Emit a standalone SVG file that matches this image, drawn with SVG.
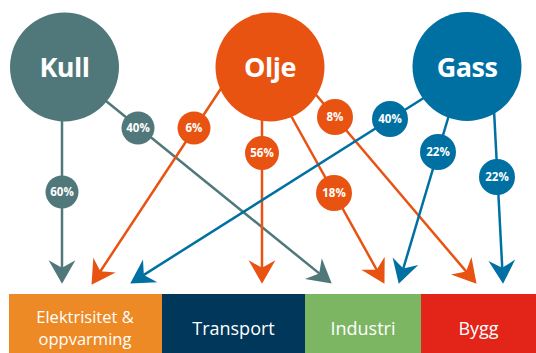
<svg xmlns="http://www.w3.org/2000/svg" width="536" height="353" viewBox="0 0 536 353">
<defs>
<style>
.big{font-family:"Open Sans","Noto Sans",sans-serif;font-weight:700;font-size:27px;fill:#fff;text-anchor:middle;letter-spacing:-0.5px}
.pct{font-family:"Open Sans","Noto Sans",sans-serif;font-weight:700;font-size:11.5px;fill:#fff;text-anchor:middle}
.lab{font-family:"Open Sans","Noto Sans",sans-serif;font-size:18px;fill:#fff;text-anchor:middle}
.lab2{font-family:"Open Sans","Noto Sans",sans-serif;font-size:16.5px;fill:#fff;text-anchor:middle}
.kull{fill:#50787a}.olje{fill:#e85312}.gass{fill:#0070a3}
.ck{stroke:#50787a}.co{stroke:#e85312}.cg{stroke:#0070a3}
#connectors line{stroke-width:2.5;fill:none}
</style>
<marker id="ak" markerUnits="userSpaceOnUse" markerWidth="30" markerHeight="30" viewBox="-2 -14 28 28" refX="10" refY="0" orient="auto"><path d="M22,0 L0,-12.5 L7,0 L0,12.5 Z" fill="#50787a"/></marker>
<marker id="ao" markerUnits="userSpaceOnUse" markerWidth="30" markerHeight="30" viewBox="-2 -14 28 28" refX="10" refY="0" orient="auto"><path d="M22,0 L0,-12.5 L7,0 L0,12.5 Z" fill="#e85312"/></marker>
<marker id="ag" markerUnits="userSpaceOnUse" markerWidth="30" markerHeight="30" viewBox="-2 -14 28 28" refX="10" refY="0" orient="auto"><path d="M22,0 L0,-12.5 L7,0 L0,12.5 Z" fill="#0070a3"/></marker>
</defs>
<g id="connectors">
<line class="ck" x1="62" y1="100" x2="62" y2="271" marker-end="url(#ak)"/>
<line class="ck" x1="64" y1="67" x2="321.7" y2="275.4" marker-end="url(#ak)"/>
<line class="co" x1="222" y1="87" x2="98.6" y2="274" marker-end="url(#ao)"/>
<line class="co" x1="262" y1="100" x2="262" y2="271" marker-end="url(#ao)"/>
<line class="co" x1="285" y1="105" x2="378.2" y2="272.5" marker-end="url(#ao)"/>
<line class="co" x1="312" y1="90" x2="468.2" y2="273.9" marker-end="url(#ao)"/>
<line class="cg" x1="430" y1="94" x2="141.1" y2="276.6" marker-end="url(#ag)"/>
<line class="cg" x1="450.5" y1="110" x2="402.4" y2="271.5" marker-end="url(#ag)"/>
<line class="cg" x1="494" y1="110" x2="502.4" y2="271" marker-end="url(#ag)"/>
</g>
<g id="kull"><circle class="kull" cx="64.5" cy="67" r="54.5"/><text class="big" x="64.5" y="76.5">Kull</text></g>
<g id="olje"><circle class="olje" cx="270" cy="67" r="54.5"/><text class="big" x="270" y="76.5">Olje</text></g>
<g id="gass"><circle class="gass" cx="467" cy="66.5" r="54.5"/><text class="big" x="467" y="76.5">Gass</text></g>
<g id="p-kull-60"><circle class="kull" cx="62" cy="192" r="16.5"/><text class="pct" x="62" y="196">60%</text></g>
<g id="p-kull-40"><circle class="kull" cx="138" cy="128" r="16.5"/><text class="pct" x="138" y="132">40%</text></g>
<g id="p-olje-6"><circle class="olje" cx="194" cy="128" r="16.5"/><text class="pct" x="194" y="132">6%</text></g>
<g id="p-olje-56"><circle class="olje" cx="262" cy="153" r="17"/><text class="pct" x="262" y="157">56%</text></g>
<g id="p-olje-8"><circle class="olje" cx="335" cy="117" r="18"/><text class="pct" x="335" y="121">8%</text></g>
<g id="p-olje-18"><circle class="olje" cx="334" cy="193" r="18"/><text class="pct" x="334" y="197">18%</text></g>
<g id="p-gass-40"><circle class="gass" cx="390" cy="119" r="18"/><text class="pct" x="390" y="123">40%</text></g>
<g id="p-gass-22a"><circle class="gass" cx="438" cy="152" r="18"/><text class="pct" x="438" y="156">22%</text></g>
<g id="p-gass-22b"><circle class="gass" cx="497" cy="177" r="18"/><text class="pct" x="497" y="181">22%</text></g>
<g id="elektrisitet"><rect x="9" y="294" width="153" height="59" fill="#ee8a25"/><text class="lab2" x="85" y="322.5"><tspan x="85" y="322.5">Elektrisitet &amp;</tspan><tspan x="85" y="345">oppvarming</tspan></text></g>
<g id="transport"><rect x="162" y="294" width="143" height="59" fill="#00375a"/><text class="lab" x="233.5" y="335">Transport</text></g>
<g id="industri"><rect x="305" y="294" width="116" height="59" fill="#7db663"/><text class="lab" x="363" y="335">Industri</text></g>
<g id="bygg"><rect x="421" y="294" width="115" height="59" fill="#e32419"/><text class="lab" x="478.5" y="335">Bygg</text></g>
</svg>
